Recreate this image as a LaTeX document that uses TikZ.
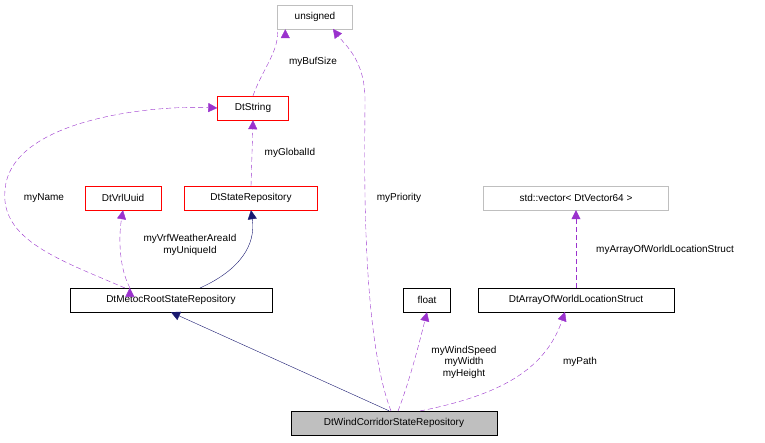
\documentclass[tikz,border=0pt]{standalone}
\usepackage{fontspec}
\setmainfont{Liberation Sans}
\usetikzlibrary{arrows.meta}
\definecolor{dpurple}{HTML}{9A32CD}
\definecolor{dnavy}{HTML}{191970}
\definecolor{dred}{HTML}{FF0000}
\definecolor{dgray}{HTML}{BFBFBF}
\begin{document}
\begin{tikzpicture}[x=1pt,y=-1pt,font=\fontsize{10}{11.5}\selectfont,
  box/.style={draw,rectangle,inner sep=0pt,minimum height=24pt,fill=white},
  redbox/.style={box,draw=dred},
  graybox/.style={box,draw=dgray},
  uses/.style={dashed,draw=dpurple,dash pattern=on 5pt off 3pt,-{Triangle[fill=dpurple,length=9pt,width=9pt]}},
  inh/.style={draw=dnavy,-{Triangle[open,fill=dnavy,length=9pt,width=9pt]}},
  lbl/.style={align=center,inner sep=1pt}]
\useasboundingbox (0,0) rectangle (765,443);
\node[graybox,minimum width=75pt] (uns) at (315,17) {unsigned};
\node[redbox,minimum width=71pt] (str) at (253,108) {DtString};
\node[redbox,minimum width=76pt] (uuid) at (123,198) {DtVrlUuid};
\node[redbox,minimum width=133pt] (srep) at (251,198) {DtStateRepository};
\node[box,minimum width=202pt] (metoc) at (171,300) {DtMetocRootStateRepository};
\node[box,minimum width=47pt] (flt) at (427,300) {float};
\node[box,minimum width=196pt] (arr) at (576,300) {DtArrayOfWorldLocationStruct};
\node[graybox,minimum width=185pt] (vec) at (576,198) {std::vector< DtVector64 >};
\node[box,minimum width=206pt,fill=dgray] (wind) at (394,423) {DtWindCorridorStateRepository};

\draw[uses] (str.north) .. controls (262,70) and (280,50) .. (uns.south west) ++(8,0);
\node[lbl] (l1) at (313,62) {myBufSize};
\draw[uses] (metoc.north west) ++(60,0) coordinate (m1);
\draw[uses] (125,288) .. controls (60,260) and (0,240) .. (5,190) .. controls (10,120) and (150,105) .. (str.west);
\node[lbl,fill=white] (l2) at (44,198) {myName};
\draw[uses] (130,288) .. controls (120,270) and (118,240) .. (uuid.south);
\node[lbl,fill=white] (l3) at (190,245) {myVrfWeatherAreaId\\myUniqueId};
\draw[uses] (srep.north) -- (str.south);
\node[lbl,fill=white] (l4) at (290,153) {myGlobalId};
\draw[inh] (200,288) .. controls (240,270) and (256,245) .. (srep.south);
\draw[inh] (wind.north) ++(-5,0) -- (metoc.south);
\draw[uses] (391,411) .. controls (360,330) and (365,150) .. (365,100) .. controls (365,60) and (345,45) .. (333,29);
\node[lbl,fill=white] (l5) at (399,198) {myPriority};
\draw[uses] (398,411) .. controls (410,380) and (420,340) .. (flt.south);
\node[lbl] (l6) at (464,362) {myWindSpeed\\myWidth\\myHeight};
\draw[uses] (420,411) .. controls (500,395) and (545,370) .. (565,312);
\node[lbl] (l7) at (580,362) {myPath};
\draw[uses] (arr.north) -- (vec.south);
\node[lbl,fill=white] (l8) at (665,250) {myArrayOfWorldLocationStruct};
\end{tikzpicture}
\end{document}
